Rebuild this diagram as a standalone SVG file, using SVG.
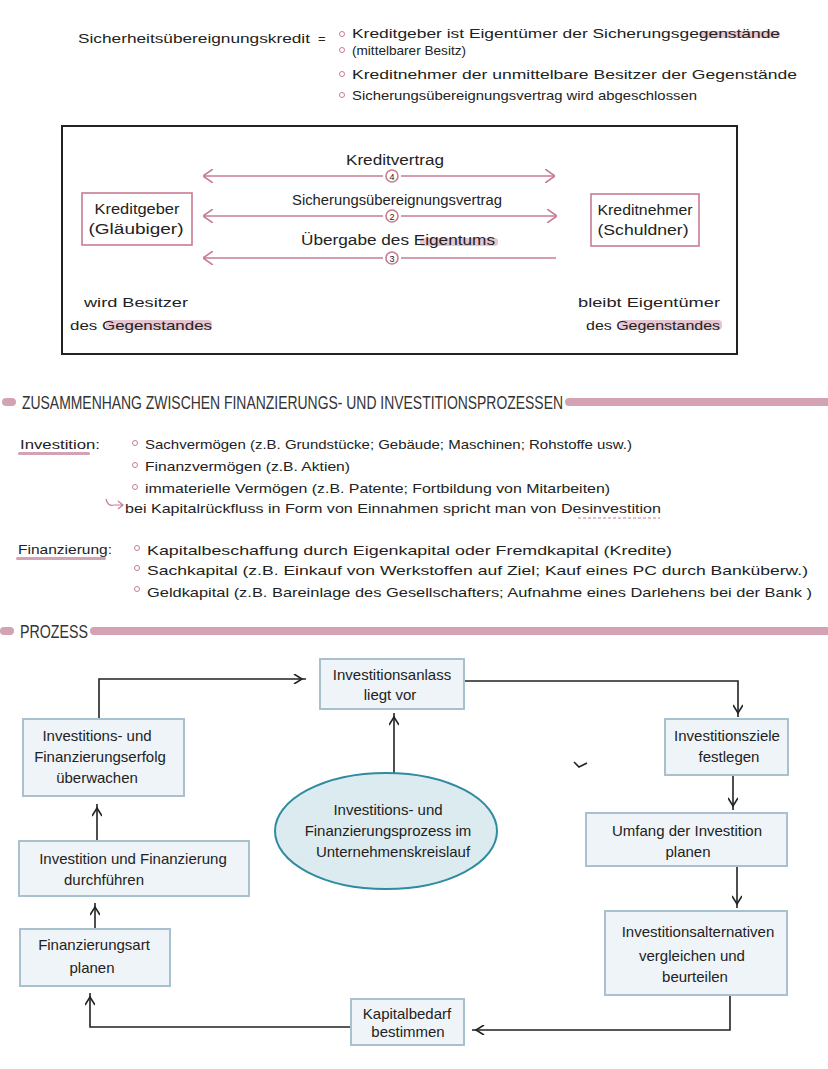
<svg xmlns="http://www.w3.org/2000/svg" width="828" height="1069" viewBox="0 0 828 1069">
<style>
text{font-family:"Liberation Sans","DejaVu Sans",sans-serif;fill:#222;}
.t{font-size:13px;}
.c{text-anchor:middle;font-size:14px;}
.p{text-anchor:middle;font-size:15px;}
.h{font-size:19px;fill:#333;font-family:"Liberation Sans Narrow","Liberation Sans",sans-serif;}
.pk{fill:none;stroke:#c77c93;stroke-width:1.6;}
.pbox{fill:#fff;stroke:#c77c93;stroke-width:1.6;}
.node{fill:#eef4f8;stroke:#a9c0cd;stroke-width:2;}
.conn{fill:none;stroke:#222;stroke-width:1.6;}
.hl{fill:#e6c6d1;}
.bar{fill:#d3a3b3;}
.bul{fill:none;stroke:#c77c93;stroke-width:1;}
</style>
<defs>
<marker id="pa" viewBox="0 0 10 14" refX="10" refY="7" markerWidth="10" markerHeight="14" markerUnits="userSpaceOnUse" orient="auto-start-reverse"><path d="M0,0 L10,7 L0,14" fill="none" stroke="#c77c93" stroke-width="1.6"/></marker>
<marker id="ka" viewBox="0 0 14 10" refX="14" refY="5" markerWidth="14" markerHeight="10" markerUnits="userSpaceOnUse" orient="auto"><path d="M2,0 L10,5 L2,10" fill="none" stroke="#222" stroke-width="1.6"/></marker>
</defs>
<rect width="828" height="1069" fill="#fff"/>

<g id="definition">
<text class="t" x="78" y="43" textLength="232" lengthAdjust="spacingAndGlyphs">Sicherheitsübereignungskredit</text>
<text class="t" x="318" y="43">=</text>
<circle class="bul" cx="342" cy="34" r="2.5"/>
<circle class="bul" cx="342" cy="50" r="2.5"/>
<circle class="bul" cx="342" cy="74" r="2.5"/>
<circle class="bul" cx="342" cy="95" r="2.5"/>
<rect class="hl" x="700" y="31" width="80" height="7" rx="3"/>
<text class="t" x="352" y="38" textLength="428" lengthAdjust="spacingAndGlyphs">Kreditgeber ist Eigentümer der Sicherungsgegenstände</text>
<text class="t" x="352" y="55" textLength="114" lengthAdjust="spacingAndGlyphs">(mittelbarer Besitz)</text>
<text class="t" x="352" y="79" textLength="445" lengthAdjust="spacingAndGlyphs">Kreditnehmer der unmittelbare Besitzer der Gegenstände</text>
<text class="t" x="352" y="100" textLength="345" lengthAdjust="spacingAndGlyphs">Sicherungsübereignungsvertrag wird abgeschlossen</text>
</g>

<g id="sicherung-box">
<rect x="62" y="126" width="675" height="228" fill="none" stroke="#222" stroke-width="2"/>
</g>

<g id="kreditgeber">
<rect class="pbox" x="82" y="193" width="110" height="52"/>
<text class="c" x="137" y="214" textLength="85" lengthAdjust="spacingAndGlyphs">Kreditgeber</text>
<text class="c" x="136" y="234" textLength="95" lengthAdjust="spacingAndGlyphs">(Gläubiger)</text>
</g>
<g id="kreditnehmer">
<rect class="pbox" x="591" y="194" width="108" height="52"/>
<text class="c" x="645" y="215" textLength="95" lengthAdjust="spacingAndGlyphs">Kreditnehmer</text>
<text class="c" x="643" y="235" textLength="91" lengthAdjust="spacingAndGlyphs">(Schuldner)</text>
</g>

<g id="box-labels">
<text class="c" x="395" y="165" textLength="98" lengthAdjust="spacingAndGlyphs">Kreditvertrag</text>
<text class="c" x="397" y="205" textLength="210" lengthAdjust="spacingAndGlyphs">Sicherungsübereignungsvertrag</text>
<rect class="hl" x="420" y="238" width="78" height="8" rx="3"/>
<text class="c" x="398" y="245" textLength="194" lengthAdjust="spacingAndGlyphs">Übergabe des Eigentums</text>
<text class="t" x="84" y="307" textLength="104" lengthAdjust="spacingAndGlyphs">wird Besitzer</text>
<rect class="hl" x="106" y="320" width="106" height="10" rx="4"/>
<text class="t" x="70" y="330" textLength="142" lengthAdjust="spacingAndGlyphs">des Gegenstandes</text>
<text class="t" x="578" y="307" textLength="142" lengthAdjust="spacingAndGlyphs">bleibt Eigentümer</text>
<rect class="hl" x="620" y="320" width="102" height="10" rx="4"/>
<text class="t" x="586" y="330" textLength="134" lengthAdjust="spacingAndGlyphs">des Gegenstandes</text>
</g>

<g id="box-connectors">
<line class="pk" x1="203" y1="176" x2="383" y2="176" marker-start="url(#pa)"/>
<line class="pk" x1="401" y1="176" x2="555" y2="176" marker-end="url(#pa)"/>
<circle class="pk" cx="392" cy="176" r="6"/>
<text x="392" y="179.5" text-anchor="middle" font-size="9" fill="#c77c93">4</text>
<line class="pk" x1="203" y1="216" x2="383" y2="216" marker-start="url(#pa)"/>
<line class="pk" x1="401" y1="216" x2="557" y2="216" marker-end="url(#pa)"/>
<circle class="pk" cx="392" cy="216" r="6"/>
<text x="392" y="219.5" text-anchor="middle" font-size="9" fill="#c77c93">2</text>
<line class="pk" x1="203" y1="258" x2="383" y2="258" marker-start="url(#pa)"/>
<line class="pk" x1="401" y1="258" x2="556" y2="258"/>
<circle class="pk" cx="392" cy="258" r="6"/>
<text x="392" y="261.5" text-anchor="middle" font-size="9" fill="#c77c93">3</text>
</g>

<g id="header-zusammenhang">
<rect class="bar" x="2" y="398" width="14" height="8" rx="4"/>
<text class="h" x="22" y="409" textLength="541" lengthAdjust="spacingAndGlyphs">ZUSAMMENHANG ZWISCHEN FINANZIERUNGS- UND INVESTITIONSPROZESSEN</text>
<rect class="bar" x="565" y="398" width="270" height="8" rx="4"/>
</g>

<g id="investition">
<text class="t" x="20" y="449" textLength="80" lengthAdjust="spacingAndGlyphs">Investition:</text>
<rect class="bar" x="18" y="452" width="72" height="3" rx="1.5"/>
<circle class="bul" cx="135" cy="443" r="2.5"/>
<circle class="bul" cx="135" cy="465" r="2.5"/>
<circle class="bul" cx="135" cy="487" r="2.5"/>
<text class="t" x="145" y="449" textLength="487" lengthAdjust="spacingAndGlyphs">Sachvermögen (z.B. Grundstücke; Gebäude; Maschinen; Rohstoffe usw.)</text>
<text class="t" x="145" y="471" textLength="205" lengthAdjust="spacingAndGlyphs">Finanzvermögen (z.B. Aktien)</text>
<text class="t" x="145" y="493" textLength="465" lengthAdjust="spacingAndGlyphs">immaterielle Vermögen (z.B. Patente; Fortbildung von Mitarbeiten)</text>
<path d="M106,499 Q108,507 114,505 L122,505 M118,501 L123,505 L118,509" fill="none" stroke="#c77c93" stroke-width="1.2"/>
<text class="t" x="125" y="513" textLength="536" lengthAdjust="spacingAndGlyphs">bei Kapitalrückfluss in Form von Einnahmen spricht man von Desinvestition</text>
<line x1="578" y1="518" x2="660" y2="518" stroke="#c77c93" stroke-width="1.2" stroke-dasharray="3,2"/>
</g>

<g id="finanzierung">
<text class="t" x="18" y="554" textLength="94" lengthAdjust="spacingAndGlyphs">Finanzierung:</text>
<rect class="bar" x="16" y="557" width="90" height="3" rx="1.5"/>
<circle class="bul" cx="137" cy="548" r="2.5"/>
<circle class="bul" cx="137" cy="568" r="2.5"/>
<circle class="bul" cx="137" cy="589" r="2.5"/>
<text class="t" x="147" y="555" textLength="525" lengthAdjust="spacingAndGlyphs">Kapitalbeschaffung durch Eigenkapital oder Fremdkapital (Kredite)</text>
<text class="t" x="147" y="575" textLength="661" lengthAdjust="spacingAndGlyphs">Sachkapital (z.B. Einkauf von Werkstoffen auf Ziel; Kauf eines PC durch Banküberw.)</text>
<text class="t" x="147" y="597" textLength="665" lengthAdjust="spacingAndGlyphs">Geldkapital (z.B. Bareinlage des Gesellschafters; Aufnahme eines Darlehens bei der Bank )</text>
</g>

<g id="header-prozess">
<rect class="bar" x="0" y="627" width="14" height="8" rx="4"/>
<text class="h" x="20" y="638" textLength="68" lengthAdjust="spacingAndGlyphs">PROZESS</text>
<rect class="bar" x="90" y="627" width="745" height="8" rx="4"/>
</g>

<g id="connectors">
<polyline class="conn" points="99,719 99,679 306,679" marker-end="url(#ka)"/>
<polyline class="conn" points="464,681 738,681 738,717" marker-end="url(#ka)"/>
<line class="conn" x1="733" y1="775" x2="733" y2="810" marker-end="url(#ka)"/>
<line class="conn" x1="737" y1="866" x2="737" y2="908" marker-end="url(#ka)"/>
<polyline class="conn" points="730,995 730,1030 472,1030" marker-end="url(#ka)"/>
<polyline class="conn" points="351,1027 90,1027 90,993" marker-end="url(#ka)"/>
<line class="conn" x1="95" y1="929" x2="95" y2="903" marker-end="url(#ka)"/>
<line class="conn" x1="97" y1="841" x2="97" y2="804" marker-end="url(#ka)"/>
<line class="conn" x1="394" y1="773" x2="394" y2="713" marker-end="url(#ka)"/>
<path class="conn" d="M574,762 L579,767 L587,763"/>
</g>

<g id="n-anlass">
<rect class="node" x="320" y="659" width="144" height="50"/>
<text class="p" x="392" y="680">Investitionsanlass</text>
<text class="p" x="390" y="700">liegt vor</text>
</g>
<g id="n-ziele">
<rect class="node" x="665" y="719" width="123" height="56"/>
<text class="p" x="727" y="741">Investitionsziele</text>
<text class="p" x="729" y="762">festlegen</text>
</g>
<g id="n-umfang">
<rect class="node" x="586" y="813" width="201" height="53"/>
<text class="p" x="687" y="836">Umfang der Investition</text>
<text class="p" x="688" y="857">planen</text>
</g>
<g id="n-alternativen">
<rect class="node" x="605" y="911" width="182" height="84"/>
<text class="p" x="698" y="937">Investitionsalternativen</text>
<text class="p" x="692" y="961">vergleichen und</text>
<text class="p" x="695" y="982">beurteilen</text>
</g>
<g id="n-kapitalbedarf">
<rect class="node" x="351" y="999" width="113" height="46"/>
<text class="p" x="407" y="1019">Kapitalbedarf</text>
<text class="p" x="408" y="1037">bestimmen</text>
</g>
<g id="n-finanzierungsart">
<rect class="node" x="20" y="929" width="150" height="57"/>
<text class="p" x="94" y="950">Finanzierungsart</text>
<text class="p" x="92" y="973">planen</text>
</g>
<g id="n-durchfuehren">
<rect class="node" x="19" y="841" width="230" height="55"/>
<text class="p" x="133" y="864">Investition und Finanzierung</text>
<text class="p" x="104" y="885">durchführen</text>
</g>
<g id="n-ueberwachen">
<rect class="node" x="23" y="719" width="161" height="77"/>
<text class="p" x="97" y="741">Investitions- und</text>
<text class="p" x="100" y="762">Finanzierungserfolg</text>
<text class="p" x="97" y="783">überwachen</text>
</g>
<g id="n-kreislauf">
<ellipse cx="386" cy="831" rx="111" ry="58" fill="#dcebf0" stroke="#2f8ba0" stroke-width="2"/>
<text class="p" x="388" y="815">Investitions- und</text>
<text class="p" x="388" y="836">Finanzierungsprozess im</text>
<text class="p" x="393" y="857">Unternehmenskreislauf</text>
</g>
</svg>
